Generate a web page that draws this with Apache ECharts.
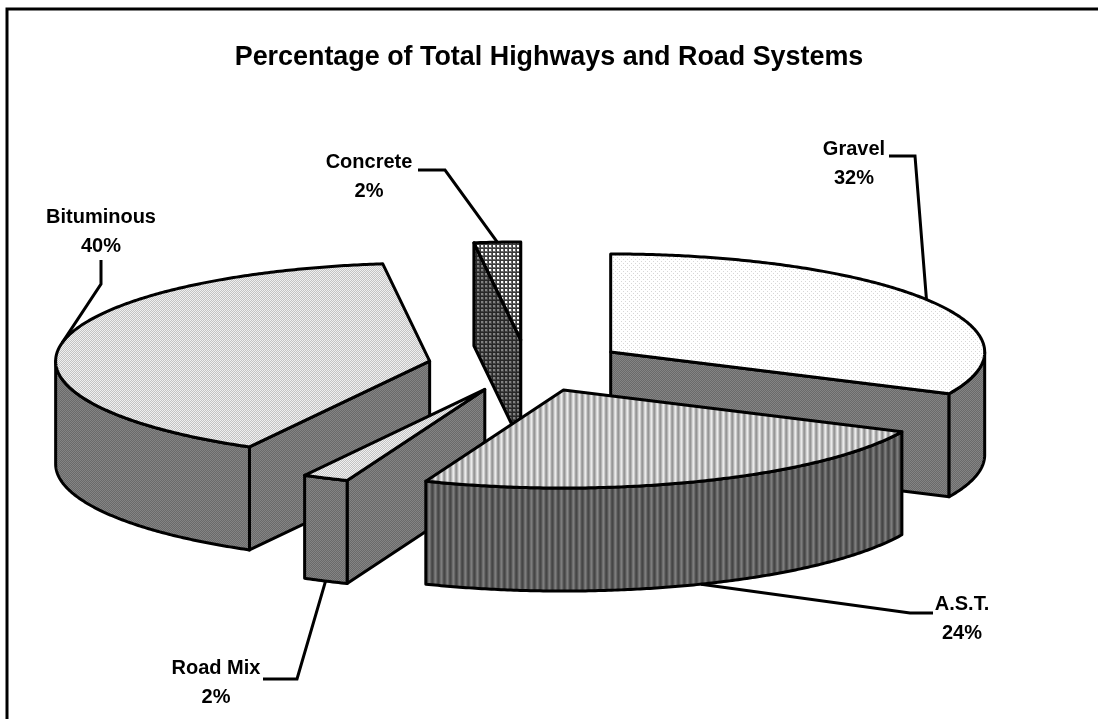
<!DOCTYPE html>
<html>
<head>
<meta charset="utf-8">
<title>Percentage of Total Highways and Road Systems</title>
<script src="https://cdn.jsdelivr.net/npm/echarts@6/dist/echarts.min.js"></script>
<style>
html, body { margin: 0; padding: 0; background: #fff; }
#chart { width: 1098px; height: 719px; }
</style>
</head>
<body>
<div id="chart"></div>
<script>
const categories = ['Gravel', 'A.S.T.', 'Road Mix', 'Bituminous', 'Concrete']
const shares = [32, 24, 2, 40, 2]

// pie geometry
const cx = 527
const cy = 365.9
const rx = 374
const ry = 98
const depth = 103
const explode = 0.265
const total = shares.reduce((a, b) => a + b, 0)
// back to front
const drawOrder = [4, 0, 3, 2, 1]

// makes a small repeating tile, rows of grey values
function tile (rows) {
  const c = document.createElement('canvas')
  c.height = rows.length
  c.width = rows[0].length
  const ctx = c.getContext('2d')
  rows.forEach((row, y) => {
    row.forEach((v, x) => {
      ctx.fillStyle = 'rgb(' + v + ',' + v + ',' + v + ')'
      ctx.fillRect(x, y, 1, 1)
    })
  })
  return { image: c, repeat: 'repeat' }
}

const sparseDots = tile([
  [255, 255, 255, 255],
  [255, 215, 255, 255],
  [255, 255, 255, 255],
  [255, 255, 255, 215]
])
const denseDots = tile([
  [240, 195],
  [195, 240]
])
const wallDots = tile([
  [132, 106],
  [106, 132]
])
const stripesLight = tile([[150, 180, 215, 235, 205, 165]])
const stripesDark = tile([[70, 85, 110, 125, 105, 80]])
const gridLight = tile([
  [60, 60, 60, 60],
  [60, 255, 255, 110],
  [60, 255, 255, 110],
  [60, 110, 110, 110]
])
const gridDark = tile([
  [40, 40, 40, 40],
  [40, 130, 130, 70],
  [40, 130, 130, 70],
  [40, 70, 70, 70]
])

const topFill = [sparseDots, stripesLight, denseDots, denseDots, gridLight]
const sideFill = [wallDots, stripesDark, wallDots, wallDots, gridDark]

// leader elbow and label centre for each slice, the line starts on the pie
const leaders = [
  { elbow: [[915, 156], [889, 156]], text: [854, 163.5] },
  { elbow: [[910, 613], [933, 613]], text: [962, 619] },
  { elbow: [[297, 679], [263, 679]], text: [216, 683] },
  { elbow: [[101, 284], [101, 260]], text: [101, 231.5] },
  { elbow: [[445, 170], [418, 170]], text: [369, 176.5] }
]

function rad (deg) {
  return deg * Math.PI / 180
}

function sliceAngles (i) {
  let before = 0
  for (let k = 0; k < i; k++) before += shares[k]
  return [before / total * 360, (before + shares[i]) / total * 360]
}

function apexOf (i) {
  const a = sliceAngles(i)
  const m = rad((a[0] + a[1]) / 2)
  return [cx + explode * rx * Math.sin(m), cy - explode * ry * Math.cos(m)]
}

function onRim (apex, deg) {
  return [apex[0] + rx * Math.sin(rad(deg)), apex[1] - ry * Math.cos(rad(deg))]
}

function down (p) {
  return [p[0], p[1] + depth]
}

function face (points, fill) {
  return {
    type: 'polygon',
    shape: { points: points },
    style: { fill: fill, stroke: '#000', lineWidth: 3, lineJoin: 'round' }
  }
}

function arcPoints (apex, from, to) {
  const pts = []
  const n = Math.max(2, Math.ceil(Math.abs(to - from) * 2))
  for (let k = 0; k <= n; k++) pts.push(onRim(apex, from + (to - from) * k / n))
  return pts
}

function renderSlice (params) {
  const i = drawOrder[params.dataIndex]
  const a = sliceAngles(i)
  const apex = apexOf(i)
  const rimA = onRim(apex, a[0])
  const rimB = onRim(apex, a[1])
  const side = sideFill[i]
  const children = []
  // cut faces that look towards the viewer
  if (Math.sin(rad(a[0])) < -1e-6) {
    children.push(face([apex, rimA, down(rimA), down(apex)], side))
  }
  if (Math.sin(rad(a[1])) > 1e-6) {
    children.push(face([apex, rimB, down(rimB), down(apex)], side))
  }
  // outer wall, front half of the rim only
  const from = Math.max(a[0], 90)
  const to = Math.min(a[1], 270)
  if (to > from) {
    const upper = arcPoints(apex, from, to)
    children.push(face(upper.concat(upper.map(down).reverse()), side))
  }
  children.push(face([apex].concat(arcPoints(apex, a[0], a[1])), topFill[i]))
  return { type: 'group', children: children }
}

function renderLabel (params) {
  const i = params.dataIndex
  const a = sliceAngles(i)
  const mid = (a[0] + a[1]) / 2
  let start = onRim(apexOf(i), mid)
  // labels of front slices hang off the bottom of the wall
  if (mid > 90 && mid < 270) start = down(start)
  const l = leaders[i]
  return {
    type: 'group',
    children: [
      {
        type: 'polyline',
        shape: { points: [start].concat(l.elbow) },
        style: { fill: 'none', stroke: '#000', lineWidth: 3 }
      },
      {
        type: 'text',
        style: {
          x: l.text[0],
          y: l.text[1],
          text: categories[i] + '\n' + shares[i] + '%',
          fill: '#000',
          font: 'bold 20px "Liberation Sans", Arial, sans-serif',
          lineHeight: 29,
          align: 'center',
          verticalAlign: 'middle'
        }
      }
    ]
  }
}

const myChart = echarts.init(document.getElementById('chart'), null, { renderer: 'canvas' })
myChart.setOption({
  animation: false,
  backgroundColor: '#fff',
  title: {
    text: 'Percentage of Total Highways and Road Systems',
    left: 544,
    top: 39,
    textAlign: 'center',
    textStyle: {
      color: '#000',
      fontFamily: '"Liberation Sans", Arial, sans-serif',
      fontWeight: 'bold',
      fontSize: 26.9
    }
  },
  graphic: [{
    type: 'polyline',
    shape: { points: [[7, 719], [7, 9], [1098, 9]] },
    style: { fill: 'none', stroke: '#000', lineWidth: 3 }
  }],
  series: [
    {
      type: 'custom',
      coordinateSystem: 'none',
      z: 2,
      silent: true,
      data: drawOrder,
      renderItem: renderSlice
    },
    {
      type: 'custom',
      coordinateSystem: 'none',
      z: 3,
      silent: true,
      data: shares,
      renderItem: renderLabel
    }
  ]
})
</script>
</body>
</html>
